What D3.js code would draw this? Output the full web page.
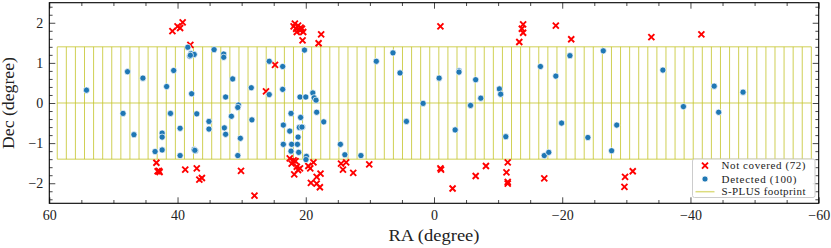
<!DOCTYPE html>
<html>
<head>
<meta charset="UTF-8">
<title>S-PLUS coverage</title>
<style>
  body { margin: 0; background: #fff; }
  text { font-family: "Liberation Serif", "DejaVu Serif", serif; fill: #222; }
</style>
</head>
<body>
<script src="https://d3js.org/d3.v7.min.js"></script>
<svg width="831" height="248"></svg>
<script>
    let svg = d3.select("svg"),
        width = +svg.attr("width"),
        height = +svg.attr("height");

    // detected sources (inside footprint) [RA, Dec]
    let detected = [
        [54.2, 0.32], [48.5, -0.26], [47.8, 0.78], [46.8, -0.79], [45.4, 0.62],
        [43.5, -1.21], [42.4, -0.75], [42.4, -0.85], [42.4, -1.17], [41.7, 0.41],
        [41.1, -0.26], [40.6, 0.81], [39.6, -0.63], [39.6, -1.31], [38.4, 1.39],
        [38.1, 1.17], [37.9, 1.23], [37.4, 1.21], [37.8, 0.23], [37.4, -1.16],
        [37.2, -1.19], [37.0, -0.27], [35.1, -0.46], [35.1, -0.65], [34.3, 1.33],
        [32.8, 1.22], [32.8, 1.14], [32.7, -0.62], [32.5, -0.78], [32.5, 0.15],
        [31.4, 0.60], [31.6, -0.33], [30.5, -0.05], [30.6, -0.11], [30.2, -0.88],
        [30.6, -1.31], [28.5, 0.38], [28.4, -0.42], [25.7, 1.04], [25.7, 0.21],
        [23.6, 0.91], [23.6, 0.34], [23.5, -0.55], [23.5, -1.03], [22.3, -0.26],
        [22.5, -0.70], [22.2, -1.03], [22.3, -1.20], [21.3, -1.03], [21.2, -0.85],
        [21.1, -1.23], [21.0, -0.61], [20.5, -0.60], [20.8, -0.36], [20.9, 0.15],
        [20.2, 1.32], [20.0, 0.15], [19.9, -1.33], [19.97, -1.41], [18.9, 0.25],
        [18.7, 0.13], [18.4, 0.07], [18.3, -0.23], [17.2, -0.47], [14.6, -1.03],
        [13.9, -1.29], [11.4, -1.31], [9.0, 1.04], [6.4, 1.25], [5.3, 0.75],
        [4.3, -0.46], [1.7, -0.01], [-0.8, 0.62], [-3.3, -0.67], [-3.9, 0.80],
        [-3.9, 0.77], [-5.7, -0.06], [-6.5, 0.58], [-7.3, 0.12], [-10.2, 0.35],
        [-10.4, 0.22], [-11.2, -0.84], [-16.6, 0.91], [-17.2, -1.31], [-17.9, -1.23],
        [-21.2, 1.18], [-19.0, 0.67], [-19.9, -0.50], [-24.0, -0.86], [-26.4, 1.30],
        [-27.7, -1.19], [-28.5, -0.55], [-35.7, 0.82], [-38.9, -0.09], [-43.7, 0.42],
        [-44.4, -0.23], [-48.2, 0.27], [38.0, 1.19], [37.3, -1.18], [20.6, -0.60]
    ];

    // sources outside the footprint [RA, Dec]
    let not_covered = [
        [40.8, 1.79], [40.0, 1.91], [39.6, 1.87], [39.2, 2.01], [38.0, 1.45],
        [43.3, -1.49], [43.1, -1.70], [42.9, -1.69], [38.8, -1.66], [37.0, -1.63],
        [36.6, -1.91], [36.2, -1.87], [30.1, -1.69], [28.0, -2.31], [26.2, 0.29],
        [24.8, 0.95], [21.9, 1.91], [21.5, 1.85], [21.2, 1.93], [20.9, 1.81],
        [20.6, 1.85], [21.4, 1.77], [21.7, 1.98], [20.4, 1.77], [20.5, 1.56],
        [17.6, 1.71], [18.0, 1.49], [22.5, -1.38], [21.9, -1.43], [22.2, -1.51],
        [21.4, -1.59], [21.2, -1.67], [21.8, -1.78], [20.9, -1.63], [19.6, -1.57],
        [19.3, -1.63], [18.8, -1.48], [19.2, -1.99], [18.3, -1.84], [17.7, -1.76],
        [18.3, -2.01], [17.8, -2.10], [14.5, -1.51], [14.2, -1.66], [13.7, -1.48],
        [12.6, -1.74], [10.1, -1.53], [-1.0, -1.63], [-1.1, -1.66], [-2.9, -2.13],
        [-6.5, -1.82], [-8.1, -1.57], [-11.5, -1.48], [-11.3, -1.73], [-11.5, -1.97],
        [-11.5, -2.01], [-17.2, -1.88], [-1.0, 1.91], [-13.3, 1.52], [-13.7, 1.85],
        [-13.9, 1.96], [-13.9, 1.75], [-19.0, 1.93], [-21.4, 1.59], [-33.9, 1.64],
        [-41.7, 1.71], [-29.8, -1.84], [-31.0, -1.70], [-29.7, -2.09], [20.8, 1.88],
        [21.6, -1.45], [42.8, -1.72]
    ];

    // S-PLUS footprint: tiles in two rows
    let footprint_ra_start = 58.76;
    let footprint_tile = 1.417;
    let footprint_ntiles = 83;
    let footprint_dec = [-1.4, 0, 1.4];

    let x_major = [60, 40, 20, 0, -20, -40, -60];
    let y_major = [-2, -1, 0, 1, 2];

    let legend_labels = ["Not covered (72)", "Detected (100)", "S-PLUS footprint"];

    // plot area
    let plot_left = 49.3, plot_right = 818.7, plot_top = 2.7, plot_bottom = 203.3;

    let x = d3.scaleLinear().domain([60, -60]).range([plot_left, plot_right]);
    let y = d3.scaleLinear().domain([-2.5, 2.5]).range([plot_bottom, plot_top]);

    let fp_color = "#c4c42a";

    // footprint
    let fp = svg.append("g").attr("stroke", fp_color).attr("stroke-opacity", 0.8).attr("stroke-width", 1);
    let edges = d3.range(footprint_ntiles + 1).map(i => footprint_ra_start - i * footprint_tile);
    fp.selectAll("line.v")
        .data(edges).enter()
        .append("line")
        .attr("x1", d => x(d)).attr("x2", d => x(d))
        .attr("y1", y(footprint_dec[0])).attr("y2", y(footprint_dec[2]));
    fp.selectAll("line.h")
        .data(footprint_dec).enter()
        .append("line")
        .attr("x1", x(edges[0])).attr("x2", x(edges[edges.length - 1]))
        .attr("y1", d => y(d)).attr("y2", d => y(d));

    // not covered markers
    let xmark = "M-3,-3L3,3M-3,3L3,-3";
    svg.append("g")
        .selectAll("path")
        .data(not_covered).enter()
        .append("path")
        .attr("d", xmark)
        .attr("transform", d => "translate(" + x(d[0]) + "," + y(d[1]) + ")")
        .attr("stroke", "#ff0000")
        .attr("stroke-width", 1.9)
        .attr("fill", "none");

    // detected markers
    svg.append("g")
        .selectAll("circle")
        .data(detected).enter()
        .append("circle")
        .attr("cx", d => x(d[0]))
        .attr("cy", d => y(d[1]))
        .attr("r", 3.1)
        .attr("fill", "#1f77b4")
        .attr("stroke", "#fff")
        .attr("stroke-width", 0.7);

    // axes with inward ticks
    let x_minor = d3.range(60, -60.01, -5).filter(v => !x_major.includes(v));
    let y_minor = d3.range(-2.4, 2.41, 0.2).map(v => Math.round(v * 10) / 10).filter(v => !y_major.includes(v));
    let fmt = d3.format("d");

    function ticks(g) {
        g.select(".domain").remove();
        g.selectAll(".tick line").attr("stroke", "#333").attr("stroke-width", 0.9);
        g.selectAll(".tick text").attr("font-size", 14).attr("fill", "#222")
            .style("font-family", '"Liberation Serif", serif');
    }

    svg.append("g").attr("transform", "translate(0," + plot_bottom + ")")
        .call(d3.axisBottom(x).tickValues(x_major).tickFormat(fmt).tickSize(-6).tickPadding(6.5)).call(ticks);
    svg.append("g").attr("transform", "translate(0," + plot_bottom + ")")
        .call(d3.axisBottom(x).tickValues(x_minor).tickSize(-3.3).tickFormat("")).call(ticks);
    svg.append("g").attr("transform", "translate(0," + plot_top + ")")
        .call(d3.axisTop(x).tickValues(x_major).tickSize(-6).tickFormat("")).call(ticks);
    svg.append("g").attr("transform", "translate(0," + plot_top + ")")
        .call(d3.axisTop(x).tickValues(x_minor).tickSize(-3.3).tickFormat("")).call(ticks);

    svg.append("g").attr("transform", "translate(" + plot_left + ",0)")
        .call(d3.axisLeft(y).tickValues(y_major).tickFormat(fmt).tickSize(-6).tickPadding(6)).call(ticks);
    svg.append("g").attr("transform", "translate(" + plot_left + ",0)")
        .call(d3.axisLeft(y).tickValues(y_minor).tickSize(-3.3).tickFormat("")).call(ticks);
    svg.append("g").attr("transform", "translate(" + plot_right + ",0)")
        .call(d3.axisRight(y).tickValues(y_major).tickSize(-6).tickFormat("")).call(ticks);
    svg.append("g").attr("transform", "translate(" + plot_right + ",0)")
        .call(d3.axisRight(y).tickValues(y_minor).tickSize(-3.3).tickFormat("")).call(ticks);

    // frame
    svg.append("rect")
        .attr("x", plot_left).attr("y", plot_top)
        .attr("width", plot_right - plot_left).attr("height", plot_bottom - plot_top)
        .attr("fill", "none").attr("stroke", "#000").attr("stroke-width", 1.1);

    // axis labels
    svg.append("text")
        .attr("x", (plot_left + plot_right) / 2).attr("y", 240.5)
        .attr("text-anchor", "middle").attr("font-size", 16)
        .attr("textLength", 91).attr("lengthAdjust", "spacingAndGlyphs")
        .text("RA (degree)");
    svg.append("text")
        .attr("transform", "translate(14," + y(0) + ") rotate(-90)")
        .attr("text-anchor", "middle").attr("font-size", 16)
        .attr("textLength", 92).attr("lengthAdjust", "spacingAndGlyphs")
        .text("Dec (degree)");

    // legend
    let lg = svg.append("g").attr("transform", "translate(692.5,159)");
    lg.append("rect")
        .attr("width", 122.5).attr("height", 38.5).attr("rx", 2)
        .attr("fill", "#fff").attr("fill-opacity", 0.85)
        .attr("stroke", "#ccc").attr("stroke-width", 1);
    let rows = [6.7, 20, 32.7];
    lg.append("path").attr("d", xmark)
        .attr("transform", "translate(12.5," + rows[0] + ")")
        .attr("stroke", "#ff0000").attr("stroke-width", 1.9).attr("fill", "none");
    lg.append("circle").attr("cx", 12.5).attr("cy", rows[1]).attr("r", 3)
        .attr("fill", "#1f77b4").attr("stroke", "#fff").attr("stroke-width", 0.7);
    lg.append("line").attr("x1", 3).attr("x2", 22).attr("y1", rows[2]).attr("y2", rows[2])
        .attr("stroke", fp_color).attr("stroke-opacity", 0.6).attr("stroke-width", 1.5);
    lg.selectAll("text.lab")
        .data(legend_labels).enter()
        .append("text")
        .attr("x", 29).attr("y", (d, i) => rows[i] + 3.6)
        .attr("font-size", 11)
        .attr("textLength", (d, i) => [84, 75, 84][i]).attr("lengthAdjust", "spacing")
        .text(d => d);
</script>
</body>
</html>
